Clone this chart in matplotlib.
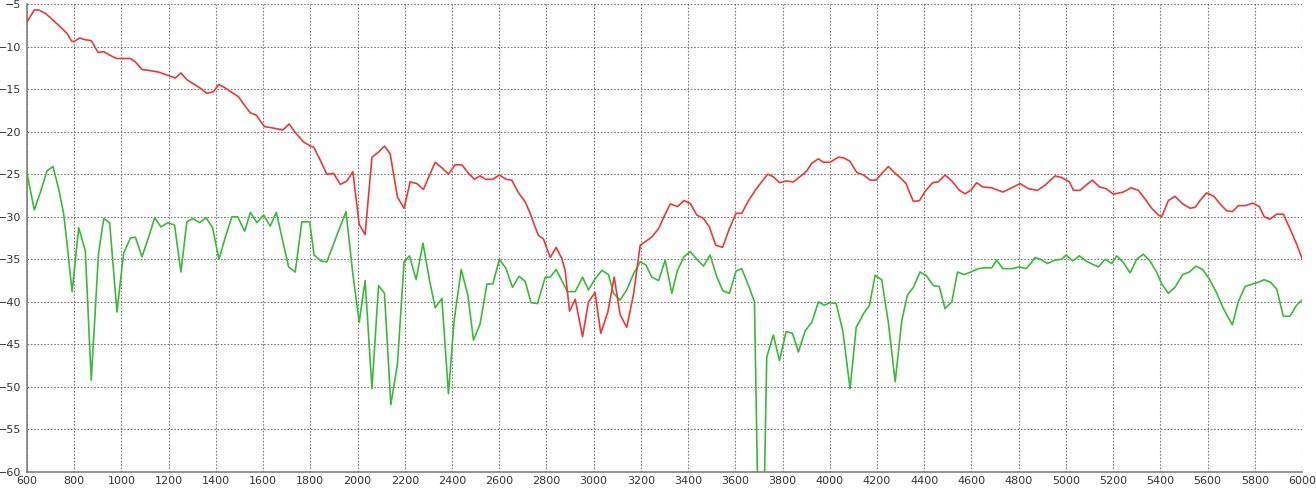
import numpy as np
import matplotlib.pyplot as plt

# Red trace (frequency, level)
red_freq = [600, 631, 649, 678, 706, 734, 769, 790, 800, 823, 847, 872, 901, 925, 950, 978,
            1009, 1038, 1059, 1087, 1115, 1157, 1193, 1228, 1252, 1277, 1306, 1334, 1362, 1390,
            1412, 1436, 1468, 1496, 1524, 1546, 1571, 1605, 1637, 1684, 1710, 1736, 1771, 1800,
            1814, 1842, 1870, 1898, 1927, 1955, 1980, 2007, 2032, 2061, 2089, 2114, 2138, 2169,
            2197, 2223, 2251, 2279, 2305, 2329, 2357, 2385, 2413, 2442, 2470, 2495, 2519, 2543,
            2572, 2601, 2629, 2653, 2682, 2710, 2731, 2752, 2766, 2787, 2816, 2841, 2865, 2879,
            2898, 2922, 2953, 2978, 3006, 3030, 3060, 3087, 3112, 3140, 3169, 3197, 3225, 3246,
            3275, 3298, 3324, 3355, 3383, 3409, 3437, 3465, 3490, 3517, 3546, 3575, 3603, 3627,
            3656, 3684, 3712, 3737, 3761, 3787, 3815, 3846, 3878, 3903, 3924, 3952, 3973, 4001,
            4037, 4061, 4086, 4114, 4143, 4171, 4196, 4224, 4248, 4277, 4298, 4323, 4337, 4354,
            4380, 4404, 4436, 4460, 4488, 4517, 4549, 4573, 4597, 4622, 4648, 4686, 4733, 4771,
            4806, 4841, 4879, 4912, 4954, 4982, 5015, 5032, 5060, 5085, 5112, 5142, 5170, 5201,
            5243, 5276, 5307, 5335, 5363, 5392, 5406, 5434, 5462, 5495, 5526, 5547, 5568, 5596,
            5627, 5653, 5681, 5706, 5730, 5759, 5791, 5819, 5840, 5864, 5893, 5921, 5949, 5977,
            6000]
red_level = [-7.1, -5.7, -5.7, -6.1, -6.8, -7.5, -8.45, -9.4, -9.4, -9.0, -9.2, -9.3, -10.7, -10.6,
             -11.0, -11.4, -11.4, -11.4, -11.8, -12.7, -12.8, -13.0, -13.35, -13.7, -13.1, -13.9,
             -14.4, -14.9, -15.5, -15.3, -14.45, -14.8, -15.4, -15.9, -17.0, -17.8, -18.06, -19.4,
             -19.55, -19.8, -19.1, -20.1, -21.2, -21.7, -21.8, -23.35, -25.0, -24.9, -26.2, -25.8,
             -24.7, -30.9, -32.1, -23.0, -22.4, -21.7, -22.6, -27.7, -29.0, -25.9, -26.1, -26.8,
             -25.1, -23.6, -24.25, -25.0, -23.9, -23.9, -24.9, -25.6, -25.2, -25.6, -25.6, -25.1,
             -25.6, -25.7, -27.2, -28.25, -29.6, -31.2, -32.2, -32.6, -34.8, -33.6, -34.9, -36.3,
             -41.1, -39.7, -44.1, -40.0, -38.9, -43.7, -41.2, -37.1, -41.5, -43.0, -39.1, -33.35,
             -32.8, -32.4, -31.4, -30.0, -28.5, -28.8, -28.1, -28.45, -29.8, -30.2, -31.2, -33.35,
             -33.6, -31.4, -29.6, -29.6, -28.1, -26.9, -25.9, -25.0, -25.3, -26.0, -25.8, -25.9,
             -25.2, -24.6, -23.7, -23.2, -23.6, -23.6, -23.0, -23.1, -23.5, -24.8, -25.1, -25.7,
             -25.7, -24.8, -24.1, -24.9, -25.4, -26.1, -27.1, -28.2, -28.1, -27.0, -26.0, -25.9,
             -25.1, -25.8, -26.9, -27.3, -26.9, -26.0, -26.5, -26.6, -27.1, -26.6, -26.1, -26.7,
             -26.9, -26.3, -25.2, -25.4, -25.9, -26.9, -26.9, -26.3, -25.7, -26.5, -26.7, -27.35,
             -27.1, -26.6, -26.9, -27.9, -29.0, -29.8, -30.0, -28.1, -27.6, -28.5, -29.0, -28.9,
             -28.1, -27.2, -27.6, -28.5, -29.3, -29.4, -28.7, -28.7, -28.4, -28.8, -30.0, -30.3,
             -29.7, -29.7, -31.4, -33.2, -34.9]

# Green trace
green_freq = [600, 631, 657, 685, 710, 734, 755, 769, 791, 819, 847, 872, 903, 925, 950, 981,
              1009, 1038, 1059, 1087, 1115, 1141, 1167, 1196, 1225, 1252, 1277, 1303, 1331, 1358,
              1386, 1413, 1440, 1468, 1492, 1522, 1546, 1574, 1602, 1630, 1656, 1708, 1736, 1764,
              1797, 1816, 1845, 1870, 1912, 1951, 1980, 2007, 2032, 2061, 2089, 2114, 2141, 2169,
              2197, 2220, 2248, 2277, 2305, 2329, 2357, 2385, 2409, 2439, 2467, 2491, 2519, 2548,
              2573, 2601, 2629, 2656, 2684, 2710, 2735, 2762, 2795, 2816, 2841, 2865, 2889, 2922,
              2953, 2978, 3006, 3035, 3063, 3084, 3112, 3140, 3169, 3197, 3222, 3246, 3275, 3303,
              3331, 3355, 3383, 3409, 3437, 3465, 3493, 3522, 3547, 3575, 3603, 3627, 3656, 3681,
              3697, 3720, 3733, 3761, 3787, 3815, 3842, 3867, 3896, 3924, 3952, 3976, 4001, 4027,
              4055, 4086, 4112, 4143, 4168, 4192, 4220, 4248, 4277, 4305, 4329, 4354, 4382, 4408,
              4439, 4464, 4488, 4517, 4541, 4569, 4597, 4630, 4658, 4686, 4707, 4733, 4771, 4803,
              4831, 4851, 4869, 4893, 4922, 4954, 4982, 5001, 5029, 5057, 5085, 5114, 5138, 5166,
              5194, 5215, 5241, 5272, 5300, 5328, 5356, 5384, 5406, 5434, 5462, 5495, 5523, 5551,
              5579, 5607, 5636, 5667, 5705, 5730, 5759, 5791, 5815, 5840, 5867, 5893, 5921, 5949,
              5977, 6000]
green_level = [-24.9, -29.2, -27.1, -24.6, -24.1, -26.7, -29.6, -33.0, -38.8, -31.3, -34.0, -49.2,
               -34.3, -30.2, -30.7, -41.2, -34.3, -32.5, -32.4, -34.7, -32.4, -30.1, -31.2, -30.7,
               -31.0, -36.5, -30.6, -30.2, -30.7, -30.1, -31.3, -35.0, -32.4, -30.0, -30.0, -31.7,
               -29.5, -30.7, -29.8, -31.1, -29.5, -35.9, -36.5, -30.6, -30.6, -34.5, -35.2, -35.3,
               -32.2, -29.4, -36.7, -42.4, -37.5, -50.2, -38.1, -39.0, -52.1, -47.3, -35.3, -34.6,
               -37.4, -33.1, -37.5, -40.7, -39.6, -50.8, -42.2, -36.2, -39.2, -44.5, -42.6, -37.9,
               -37.9, -35.0, -36.1, -38.3, -37.0, -37.6, -40.1, -40.2, -37.1, -37.1, -36.2, -37.5,
               -38.8, -38.8, -37.1, -38.6, -37.3, -36.3, -36.8, -39.0, -39.8, -38.6, -36.7, -35.3,
               -35.7, -37.1, -37.5, -35.1, -39.0, -36.3, -34.7, -34.1, -35.0, -35.8, -34.5, -37.1,
               -38.7, -39.0, -36.4, -36.1, -38.1, -40.0, -66.0, -66.0, -46.5, -43.9, -46.9, -43.5,
               -43.7, -45.9, -43.4, -42.4, -40.0, -40.4, -40.1, -40.2, -43.4, -50.2, -43.0, -41.4,
               -40.4, -36.9, -37.4, -42.4, -49.4, -42.2, -39.2, -38.3, -36.5, -36.9, -38.1, -38.2,
               -40.8, -40.0, -36.5, -36.8, -36.5, -36.1, -36.0, -36.0, -35.1, -36.1, -36.1, -35.9,
               -36.1, -35.5, -34.8, -35.0, -35.5, -35.1, -35.0, -34.5, -35.2, -34.6, -35.2, -35.6,
               -35.9, -35.0, -35.5, -34.6, -35.3, -36.6, -35.0, -34.4, -35.2, -36.5, -37.9, -39.0,
               -38.3, -36.8, -36.5, -35.8, -36.2, -37.3, -38.8, -40.8, -42.7, -40.0, -38.2, -37.9,
               -37.7, -37.4, -37.7, -38.5, -41.7, -41.7, -40.4, -39.8]

x_ticks = np.arange(600, 6001, 200)
y_ticks = np.arange(-60, -4, 5)

fig = plt.figure(figsize=(13.16, 4.88), dpi=100)
ax = fig.add_axes([27 / 1316, 16 / 488, 1275 / 1316, 468 / 488])

ax.plot(green_freq, green_level, color='#3cb83c', lw=1.2, zorder=3)
ax.plot(red_freq, red_level, color='#e83a3a', lw=1.2, zorder=3)

ax.set_xlim(600, 6000)
ax.set_ylim(-60, -5)
ax.set_xticks(x_ticks)
ax.set_yticks(y_ticks)
ax.grid(True, color='#7a7a7a', lw=0.8, linestyle=(0, (1.5, 1.5)))

for side in ['top', 'right']:
    ax.spines[side].set_visible(False)
for side in ['left', 'bottom']:
    ax.spines[side].set_color('#808080')
    ax.spines[side].set_linewidth(1.2)

ax.tick_params(length=0, labelsize=8, labelcolor='#333333', pad=3)
ax.tick_params(axis='y', pad=4)

plt.savefig('out.png', dpi=100)
